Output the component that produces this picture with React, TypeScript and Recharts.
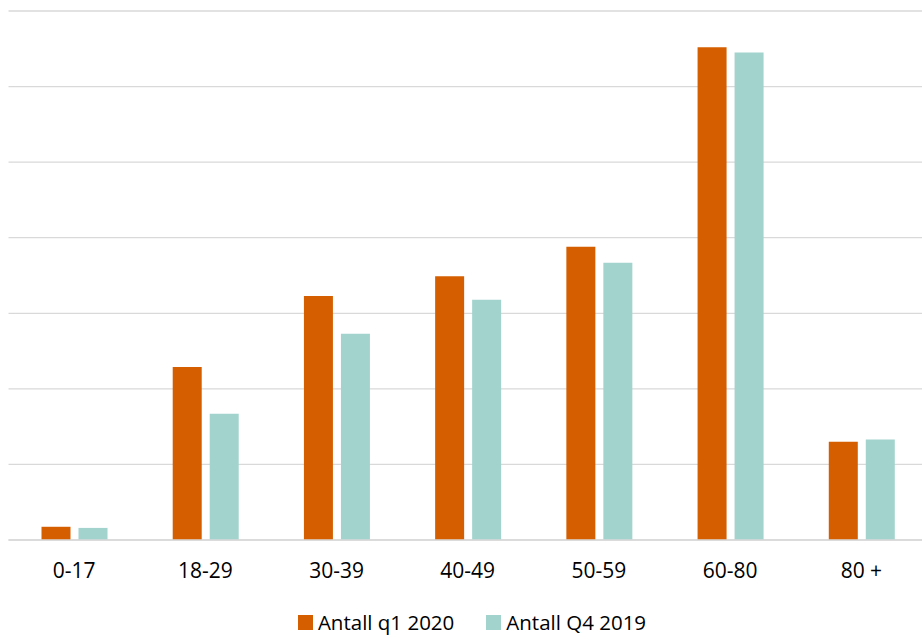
import React from 'react';
import { BarChart, Bar, XAxis, YAxis, CartesianGrid, Legend } from 'recharts';

const categories = ['0-17', '18-29', '30-39', '40-49', '50-59', '60-80', '80 +'];
const antallQ1_2020 = [0.175, 2.29, 3.23, 3.49, 3.88, 6.52, 1.3];
const antallQ4_2019 = [0.16, 1.67, 2.73, 3.18, 3.67, 6.45, 1.33];
const yTicks = [0, 1, 2, 3, 4, 5, 6, 7];
const seriesOrder = ['q1', 'q4'];

const ORANGE = '#D45E00';
const TEAL = '#A2D3CD';
const FONT = '"Open Sans", sans-serif';

const data = categories.map((c, i) => ({
  category: c,
  q1: antallQ1_2020[i],
  q4: antallQ4_2019[i],
}));

const renderLegend = (props: any) => {
  const payload = [...(props.payload || [])].sort(
    (a: any, b: any) => seriesOrder.indexOf(a.dataKey) - seriesOrder.indexOf(b.dataKey)
  );
  return (
    <div
      style={{
        display: 'flex',
        justifyContent: 'center',
        gap: 32,
        fontFamily: FONT,
        fontSize: 20.5,
        color: '#000',
        paddingLeft: 22,
      }}
    >
      {payload.map((p: any) => (
        <div key={p.value} style={{ display: 'flex', alignItems: 'center' }}>
          <span
            style={{
              display: 'inline-block',
              width: 15,
              height: 15,
              background: p.color,
              marginRight: 5,
            }}
          />
          <span>{p.value}</span>
        </div>
      ))}
    </div>
  );
};

export default function App() {
  return (
    <div style={{ position: 'absolute', left: 0, top: 0, background: '#fff', width: 922, height: 638, overflow: 'hidden' }}>
      <BarChart
        width={922}
        height={638}
        data={data}
        margin={{ top: 11, right: -5, left: 8.5, bottom: 58 }}
        barSize={29}
        barGap={8}
      >
        <CartesianGrid vertical={false} stroke="#d9d9d9" strokeWidth={1.3} />
        <XAxis
          dataKey="category"
          axisLine={{ stroke: '#d9d9d9', strokeWidth: 1.3 }}
          tickLine={false}
          tickMargin={17}
          tick={{ fontFamily: FONT, fontSize: 21, fill: '#000' }}
          height={40}
          interval={0}
        />
        <YAxis hide domain={[0, 7]} ticks={yTicks} />
        <Legend
          layout="horizontal"
          verticalAlign="middle"
          align="center"
          content={renderLegend}
          wrapperStyle={{ position: 'absolute', top: 608, left: 0, width: 922 }}
        />
        <Bar dataKey="q1" name="Antall q1 2020" fill={ORANGE} isAnimationActive={false} />
        <Bar dataKey="q4" name="Antall Q4 2019" fill={TEAL} isAnimationActive={false} />
      </BarChart>
    </div>
  );
}
